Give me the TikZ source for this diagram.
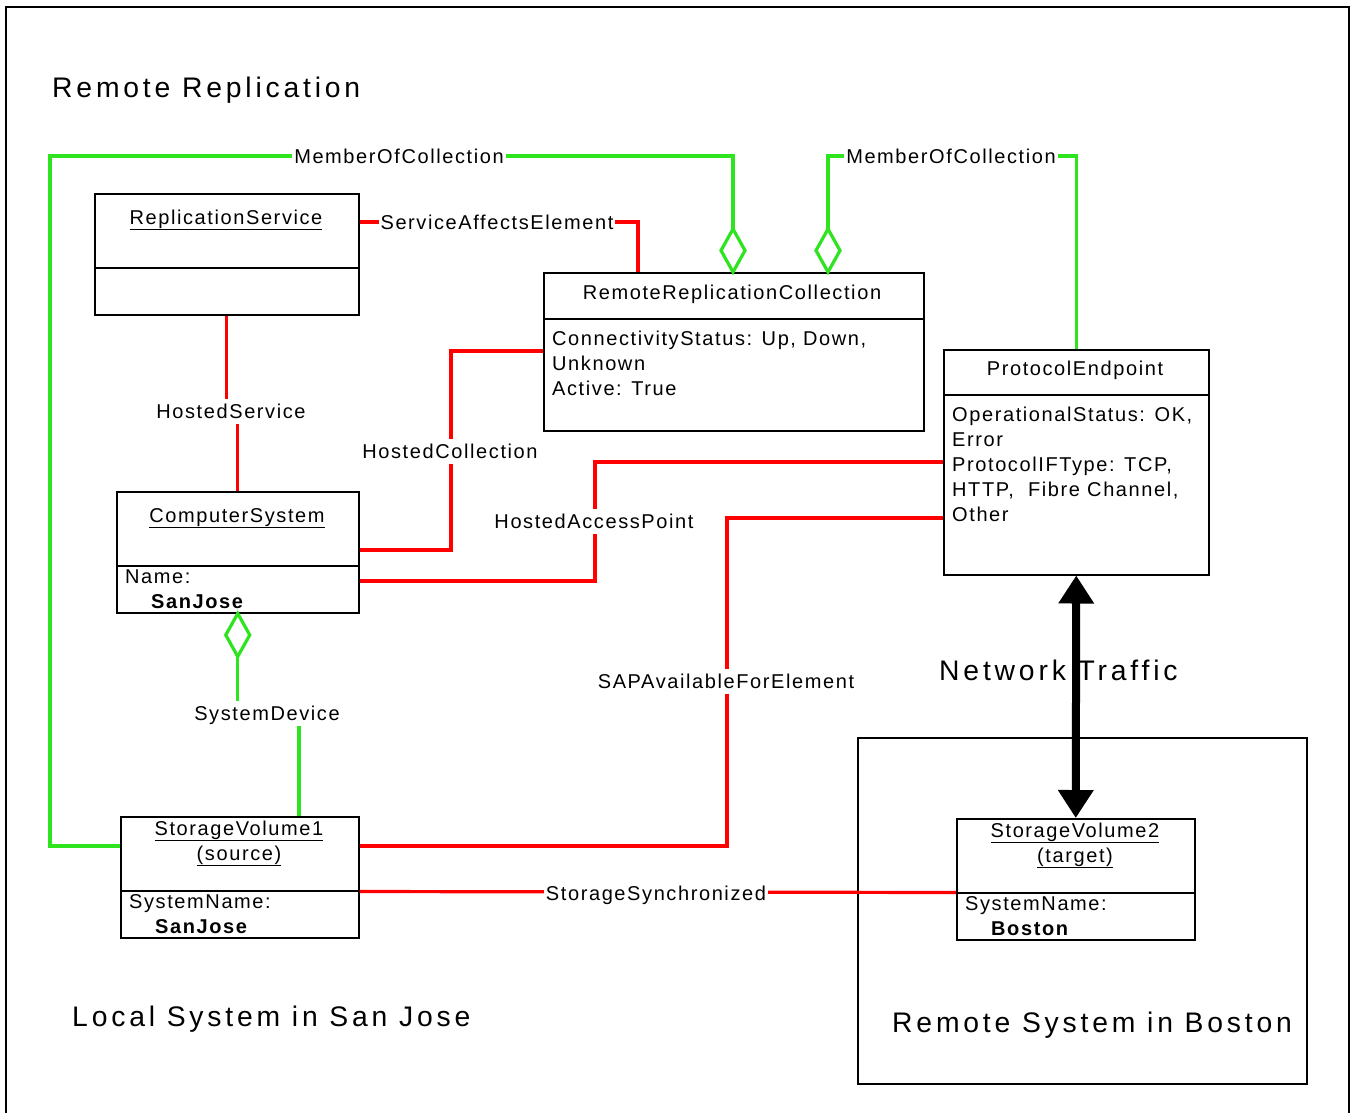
\documentclass[tikz,border=0pt]{standalone}
\usepackage{fontspec}
\setmainfont{Liberation Sans}
\newfontfamily\smf{Liberation Sans}[LetterSpace=8]
\newfontfamily\bgf{Liberation Sans}[LetterSpace=13.5]
\usetikzlibrary{calc,arrows.meta}
\definecolor{lgreen}{RGB}{45,228,30}
\definecolor{lred}{RGB}{255,0,0}
\begin{document}
\begin{tikzpicture}[x=1pt,y=-1pt,
  box/.style={draw=black, line width=1.5pt, anchor=north west, inner sep=0pt},
  divider/.style={draw=black, line width=1.5pt},
  txt/.style={font=\smf\fontsize{20}{25}\selectfont, inner sep=0pt},
  lab/.style={font=\smf\fontsize{20}{25}\selectfont, fill=white, inner xsep=2pt, inner ysep=5pt, text height=14.5pt, text depth=0.5pt},
  big/.style={font=\bgf\fontsize{28.3}{34}\selectfont, inner sep=0pt},
  gc/.style={draw=lgreen, line width=3.2pt},
  rc/.style={draw=lred, line width=3.2pt},
  dia/.style={draw=lgreen, line width=3.2pt, fill=white, line join=miter},
  bigarrow/.style={draw=black, line width=8pt, {Triangle[length=28pt,width=34pt]}-{Triangle[length=28pt,width=34pt]}}
]
\useasboundingbox (0,0) rectangle (1352,1112);
\fill[white] (0,0) rectangle (1352,1112);
% outer frame
\draw[line width=2pt] (6,1125) -- (6,7) -- (1349,7) -- (1349,1125);

% boxes
\node[box, minimum width=264pt, minimum height=121pt] (rs) at (94,193) {};
\node[box, minimum width=380pt, minimum height=158pt] (rrc) at (543,272) {};
\node[box, minimum width=265pt, minimum height=225pt] (pe) at (943,349) {};
\node[box, minimum width=242pt, minimum height=121pt] (cs) at (116,491) {};
\node[box, minimum width=238pt, minimum height=121pt] (sv1) at (120,816) {};
\node[box, minimum width=449pt, minimum height=346pt] (bos) at (857,737) {};
\node[box, minimum width=238pt, minimum height=121pt, fill=white] (sv2) at (956,818) {};

\draw[divider] ($(rs.north west)+(0,75)$) -- ($(rs.north east)+(0,75)$);
\draw[divider] ($(rrc.north west)+(0,47)$) -- ($(rrc.north east)+(0,47)$);
\draw[divider] ($(pe.north west)+(0,46)$) -- ($(pe.north east)+(0,46)$);
\draw[divider] ($(cs.north west)+(0,75)$) -- ($(cs.north east)+(0,75)$);
\draw[divider] ($(sv1.north west)+(0,75)$) -- ($(sv1.north east)+(0,75)$);
\draw[divider] ($(sv2.north west)+(0,75)$) -- ($(sv2.north east)+(0,75)$);

% box texts
\node[txt, anchor=base] (rst) at (226,224) {\underline{ReplicationService}};
\node[txt, anchor=base] (rrct) at (732,299) {RemoteReplicationCollection};
\node[txt, anchor=base west] (rrca1) at (552,345) {ConnectivityStatus: Up, Down,};
\node[txt, anchor=base west] (rrca2) at (552,370) {Unknown};
\node[txt, anchor=base west] (rrca3) at (552,395) {Active: True};
\node[txt, anchor=base] (pet) at (1075,375) {ProtocolEndpoint};
\node[txt, anchor=base west] (pea1) at (952,421) {OperationalStatus: OK,};
\node[txt, anchor=base west] (pea2) at (952,446) {Error};
\node[txt, anchor=base west] (pea3) at (952,471) {ProtocolIFType: TCP,};
\node[txt, anchor=base west] (pea4) at (952,496) {HTTP,\ \ Fibre Channel,};
\node[txt, anchor=base west] (pea5) at (952,521) {Other};
\node[txt, anchor=base] (cst) at (237,522) {\underline{ComputerSystem}};
\node[txt, anchor=base west] (csa1) at (125,583) {Name:};
\node[txt, anchor=base west, font=\smf\bfseries\fontsize{20}{25}\selectfont] (csa2) at (151,608) {SanJose};
\node[txt, anchor=base] (sv1t1) at (239,835) {\underline{StorageVolume1}};
\node[txt, anchor=base] (sv1t2) at (239,860) {\underline{(source)}};
\node[txt, anchor=base west] (sv1a1) at (129,908) {SystemName:};
\node[txt, anchor=base west, font=\smf\bfseries\fontsize{20}{25}\selectfont] (sv1a2) at (155,933) {SanJose};
\node[txt, anchor=base] (sv2t1) at (1075,837) {\underline{StorageVolume2}};
\node[txt, anchor=base] (sv2t2) at (1075,862) {\underline{(target)}};
\node[txt, anchor=base west] (sv2a1) at (965,910) {SystemName:};
\node[txt, anchor=base west, font=\smf\bfseries\fontsize{20}{25}\selectfont] (sv2a2) at (991,935) {Boston};

% big texts
\node[big, anchor=base west] (title) at (52,97) {Remote Replication};
\node[big, anchor=base west] (local) at (72,1026) {Local System in San Jose};
\node[big, anchor=base west] (remote) at (892,1032) {Remote System in Boston};
\node[big, anchor=base west] (net) at (939,680) {Network Traffic};

% diamond anchor points
\coordinate (d1) at ($(rrc.north west)+(190,0)$);
\coordinate (d2) at ($(rrc.north west)+(285,0)$);
\coordinate (d3) at (cs.south);

% green connectors
\draw[gc] ($(sv1.north west)+(0,30)$) -| (50,156) -| ($(d1)+(0,-43)$);
\draw[gc] (pe.north) |- (828,156) -- ($(d2)+(0,-43)$);
\draw[gc] ($(sv1.north west)+(179,0)$) -- ++(0,-103) -| ($(d3)+(0,43)$);
\foreach \d/\s in {d1/-1,d2/-1,d3/1}{
  \draw[dia] (\d) -- ++(12,\s*21.5) -- ++(-12,\s*21.5) -- ++(-12,-\s*21.5) -- cycle;
}

% red connectors
\draw[rc] ($(rs.north east)+(0,29)$) -| ($(rrc.north west)+(95,0)$);
\draw[rc] (rs.south) -- ++(0,97) -| (cs.north);
\draw[rc] ($(cs.north east)+(0,59)$) -| ($(rrc.north west)+(-92,79)$) -- ($(rrc.north west)+(0,79)$);
\draw[rc] ($(cs.north east)+(0,90)$) -| ($(pe.north west)+(-348,113)$) -- ($(pe.north west)+(0,113)$);
\draw[rc] ($(sv1.north east)+(0,30)$) -| ($(pe.north west)+(-216,169)$) -- ($(pe.north west)+(0,169)$);
\draw[rc] ($(sv1.north east)+(0,75.5)$) -- ($(sv2.north west)+(0,74.5)$);

% connector labels
\node[lab] (moc1) at (399,156) {MemberOfCollection};
\node[lab] (moc2) at (951,156) {MemberOfCollection};
\node[lab] (sae) at (497,222) {ServiceAffectsElement};
\node[lab] (hs) at (231,411) {HostedService};
\node[lab] (hc) at (450,451) {HostedCollection};
\node[lab] (hap) at (594,521) {HostedAccessPoint};
\node[lab] (sap) at (726,681) {SAPAvailableForElement};
\node[lab] (sd) at (267,713) {SystemDevice};
\node[lab] (ss) at (656,893) {StorageSynchronized};

% network traffic arrow
\draw[bigarrow] (pe.south) -- (sv2.north);
\end{tikzpicture}
\end{document}
